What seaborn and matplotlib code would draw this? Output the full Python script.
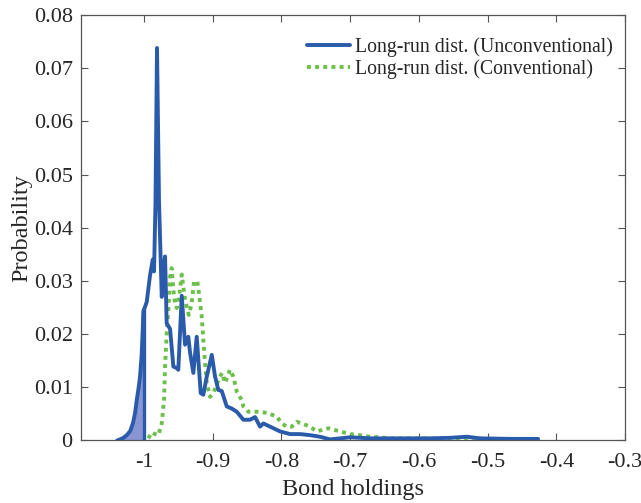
import numpy as np
import pandas as pd
import matplotlib
matplotlib.use("Agg")
import matplotlib.pyplot as plt
import seaborn as sns

# --- data ---------------------------------------------------------------
unconv_x = [-1.0393, -1.0350, -1.0300, -1.0252, -1.0200, -1.0160, -1.0130, -1.0106,
            -1.0080, -1.0058, -1.0035, -1.0019, -1.0010,
            -0.9961, -0.9913, -0.9873, -0.9854, -0.9833, -0.9811, -0.9782, -0.9742,
            -0.9716, -0.9694, -0.9670, -0.9621, -0.9573, -0.9524, -0.9501, -0.9451,
            -0.9403, -0.9355, -0.9330, -0.9282, -0.9233, -0.9175, -0.9137, -0.9087,
            -0.9014, -0.8966, -0.8918, -0.8869, -0.8796, -0.8723, -0.8650, -0.8554,
            -0.8457, -0.8384, -0.8311, -0.8263, -0.8166, -0.8020, -0.7875, -0.7729,
            -0.7583, -0.7438, -0.7292, -0.7147, -0.7001, -0.6710, -0.6273, -0.5836,
            -0.5545, -0.5302, -0.5108, -0.4672, -0.4264]
unconv_y = [0.0000, 0.0002, 0.0005, 0.0010, 0.0018, 0.0033, 0.0052, 0.0076,
            0.0098, 0.0120, 0.0160, 0.0208, 0.0243,
            0.0260, 0.0310, 0.0340, 0.0318, 0.0450, 0.0738, 0.0450, 0.0270,
            0.0320, 0.0346, 0.0220, 0.0210, 0.0139, 0.0136, 0.0133, 0.0272,
            0.0180, 0.0195, 0.0165, 0.0127, 0.0195, 0.0089, 0.0086, 0.0120,
            0.0161, 0.0120, 0.0095, 0.0093, 0.0064, 0.0060, 0.0054, 0.0039,
            0.0039, 0.0044, 0.0026, 0.0032, 0.0026, 0.0017, 0.0012, 0.0012,
            0.0010, 0.0007, 0.0002, 0.0004, 0.0006, 0.0004, 0.0004, 0.0004,
            0.0005, 0.0007, 0.0004, 0.0003, 0.0003]

conv_x = [-0.9937, -0.9888, -0.9840, -0.9792, -0.9742, -0.9709, -0.9694, -0.9670,
          -0.9646, -0.9621, -0.9597, -0.9573, -0.9549, -0.9524, -0.9490, -0.9451,
          -0.9403, -0.9349, -0.9306, -0.9272, -0.9224, -0.9195, -0.9160, -0.9137,
          -0.9112, -0.9087, -0.9039, -0.8991, -0.8942, -0.8894, -0.8864, -0.8821,
          -0.8748, -0.8700, -0.8650, -0.8578, -0.8554, -0.8482, -0.8336, -0.8214,
          -0.8068, -0.7995, -0.7923, -0.7850, -0.7777, -0.7681, -0.7583, -0.7486,
          -0.7317, -0.7147, -0.7001, -0.6855, -0.6710, -0.6564, -0.6419, -0.5982,
          -0.5545, -0.5108, -0.4526]
conv_y = [0.0004, 0.0015, 0.0012, 0.0010, 0.0032, 0.0076, 0.0139, 0.0202,
          0.0246, 0.0308, 0.0324, 0.0283, 0.0258, 0.0249, 0.0270, 0.0312,
          0.0265, 0.0236, 0.0258, 0.0299, 0.0299, 0.0271, 0.0233, 0.0189,
          0.0145, 0.0108, 0.0082, 0.0089, 0.0105, 0.0120, 0.0127, 0.0108,
          0.0133, 0.0120, 0.0092, 0.0076, 0.0064, 0.0054, 0.0054, 0.0052,
          0.0045, 0.0032, 0.0026, 0.0026, 0.0035, 0.0031, 0.0026, 0.0017,
          0.0023, 0.0017, 0.0012, 0.0010, 0.0007, 0.0006, 0.0004, 0.0004,
          0.0003, 0.0003, 0.0002]

fill_upto = -0.9995
x_ticks = [-1.0, -0.9, -0.8, -0.7, -0.6, -0.5, -0.4, -0.3]
x_tick_labels = ["-1", "-0.9", "-0.8", "-0.7", "-0.6", "-0.5", "-0.4", "-0.3"]
y_ticks = [0, 0.01, 0.02, 0.03, 0.04, 0.05, 0.06, 0.07, 0.08]
y_tick_labels = ["0", "0.01", "0.02", "0.03", "0.04", "0.05", "0.06", "0.07", "0.08"]
label_unconv = "Long-run dist. (Unconventional)"
label_conv = "Long-run dist. (Conventional)"

# --- style --------------------------------------------------------------
sns.set_theme(style="white")
plt.rcParams["font.family"] = ["Liberation Serif", "DejaVu Serif"]

blue = "#2a5bab"
green = "#6cc04a"
fill_col = "#8a95d4"
axis_col = "#555555"
text_col = "#262626"

fig = plt.figure(figsize=(6.41, 5.03), dpi=100)
ax = fig.add_axes([0.1264, 0.1243, 0.9750 - 0.1264, 0.9702 - 0.1243])

df_u = pd.DataFrame({"x": unconv_x, "y": unconv_y})
df_c = pd.DataFrame({"x": conv_x, "y": conv_y})

# shaded area under the unconventional density, left of the threshold
xu = np.array(unconv_x)
yu = np.array(unconv_y)
mask = xu <= fill_upto
xf = np.append(xu[mask], fill_upto)
yf = np.append(yu[mask], np.interp(fill_upto, xu, yu))
ax.fill_between(xf, 0, yf, color=fill_col, linewidth=0, zorder=1)
ax.vlines(fill_upto, 0, yf[-1], color=blue, linewidth=2.4, zorder=2)

sns.lineplot(data=df_u, x="x", y="y", ax=ax, sort=False, color=blue,
             linewidth=2.8, label=label_unconv, zorder=4)
sns.lineplot(data=df_c, x="x", y="y", ax=ax, sort=False, color=green,
             linewidth=2.8, linestyle=(0, (1, 1.1)), label=label_conv, zorder=3)

ax.set_xlim(-1.0917, -0.3)
ax.set_ylim(0, 0.08)
ax.set_xticks(x_ticks)
ax.set_xticklabels(x_tick_labels)
ax.set_yticks(y_ticks)
ax.set_yticklabels(y_tick_labels)
ax.set_xlabel("Bond holdings", fontsize=17.5, color=text_col, labelpad=5)
ax.set_ylabel("Probability", fontsize=17.5, color=text_col, labelpad=1)

for s in ax.spines.values():
    s.set_visible(True)
    s.set_color(axis_col)
    s.set_linewidth(0.9)
ax.tick_params(axis="both", which="both", direction="in", length=5,
               width=0.8, color=axis_col, labelsize=16, labelcolor=text_col,
               top=True, right=True, bottom=True, left=True)
ax.tick_params(axis="x", pad=9)
ax.tick_params(axis="y", pad=6)

leg = ax.legend(loc="upper right", frameon=False, fontsize=14.2,
                handlelength=2.2, handletextpad=0.25, borderaxespad=0.5,
                labelspacing=0.12, bbox_to_anchor=(1.011, 0.99))
for t in leg.get_texts():
    t.set_color(text_col)

fig.savefig("out.png", dpi=100)
